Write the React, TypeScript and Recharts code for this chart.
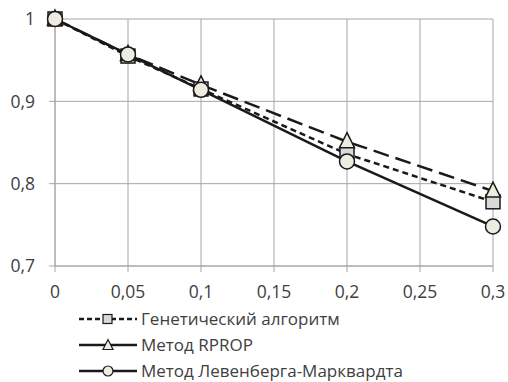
import React from "react";
import { LineChart, Line, XAxis, YAxis, CartesianGrid, Legend } from "recharts";

const xValues = [0, 0.05, 0.1, 0.2, 0.3];
const genetic = [1, 0.955, 0.915, 0.836, 0.778];
const rprop = [1, 0.957, 0.92, 0.851, 0.791];
const levenberg = [1, 0.957, 0.914, 0.827, 0.748];
const xTicks = [0, 0.05, 0.1, 0.15, 0.2, 0.25, 0.3];
const yTicks = [0.7, 0.8, 0.9, 1];

const seriesNames = [
  "Генетический алгоритм",
  "Метод RPROP",
  "Метод Левенберга-Марквардта",
];

const data = xValues.map((x, i) => ({
  x,
  genetic: genetic[i],
  rprop: rprop[i],
  levenberg: levenberg[i],
}));

const FONT = "'Open Sans', 'Noto Sans', sans-serif";
const STROKE = "#1a1a1a";
const GRID = "#a6a6a6";
const TEXT = "#404040";

const fmt = (v: number) => String(v).replace(".", ",");

const SquareDot = (props: any) => {
  const { cx, cy, index } = props;
  if (cx == null || cy == null) return null;
  return (
    <rect key={"s" + index} x={cx - 7} y={cy - 7} width={14} height={14}
      fill="#d9d9d9" stroke={STROKE} strokeWidth={1.5} />
  );
};

const TriangleDot = (props: any) => {
  const { cx, cy, index } = props;
  if (cx == null || cy == null) return null;
  return (
    <path key={"t" + index} d={`M${cx},${cy - 9} L${cx + 7.5},${cy + 6} L${cx - 7.5},${cy + 6} Z`}
      fill="#eeece1" stroke={STROKE} strokeWidth={1.5} />
  );
};

const CircleDot = (props: any) => {
  const { cx, cy, index } = props;
  if (cx == null || cy == null) return null;
  return (
    <circle key={"c" + index} cx={cx} cy={cy} r={7.5}
      fill="#eeece1" stroke={STROKE} strokeWidth={1.5} />
  );
};

const LegendIcon = ({ kind }: { kind: number }) => (
  <svg width={60} height={16} style={{ marginRight: 3, flex: "none" }}>
    <line x1={1} y1={8} x2={59} y2={8} stroke={STROKE} strokeWidth={2.5}
      strokeDasharray={kind === 0 ? "5 3" : undefined} />
    {kind === 0 && <rect x={25} y={3.5} width={9} height={9} fill="#d9d9d9" stroke={STROKE} strokeWidth={1.2} />}
    {kind === 1 && <path d="M30,2.5 L35,12.5 L25,12.5 Z" fill="#eeece1" stroke={STROKE} strokeWidth={1.2} />}
    {kind === 2 && <circle cx={30} cy={8} r={5} fill="#eeece1" stroke={STROKE} strokeWidth={1.2} />}
  </svg>
);

const renderLegend = () => (
  <div style={{ fontFamily: FONT, fontSize: 17, color: TEXT, lineHeight: "20px" }}>
    {seriesNames.map((name, i) => (
      <div key={name} style={{ display: "flex", alignItems: "center", height: 26 }}>
        <LegendIcon kind={i} />
        <span>{name}</span>
      </div>
    ))}
  </div>
);

export default function App() {
  return (
    <div style={{ position: "absolute", left: 0, top: 0, background: "#fff" }}>
      <LineChart width={508} height={382} data={data}
        margin={{ top: 19, right: 15, left: 0, bottom: 86 }}>
        <CartesianGrid stroke={GRID} strokeWidth={1} />
        <XAxis dataKey="x" type="number" domain={[0, 0.3]} ticks={xTicks}
          tickFormatter={fmt} stroke={GRID} tickSize={6} tickMargin={14}
          height={30}
          tick={{ fill: TEXT, fontSize: 17.5, fontFamily: FONT }} />
        <YAxis type="number" domain={[0.7, 1]} ticks={yTicks} tickFormatter={fmt}
          stroke={GRID} tickSize={6} tickMargin={14} width={55}
          tick={{ fill: TEXT, fontSize: 17.5, fontFamily: FONT }} />
        <Legend layout="vertical" align="center" verticalAlign="middle"
          content={renderLegend}
          wrapperStyle={{ left: 78, top: 306, width: 428, height: 76 }} />
        <Line dataKey="genetic" name={seriesNames[0]} stroke={STROKE} strokeWidth={2.5}
          strokeDasharray="6 4" dot={SquareDot} isAnimationActive={false} />
        <Line dataKey="rprop" name={seriesNames[1]} stroke={STROKE} strokeWidth={2.5}
          strokeDasharray="16 7" dot={TriangleDot} isAnimationActive={false} />
        <Line dataKey="levenberg" name={seriesNames[2]} stroke={STROKE} strokeWidth={2.5}
          dot={CircleDot} isAnimationActive={false} />
      </LineChart>
    </div>
  );
}
